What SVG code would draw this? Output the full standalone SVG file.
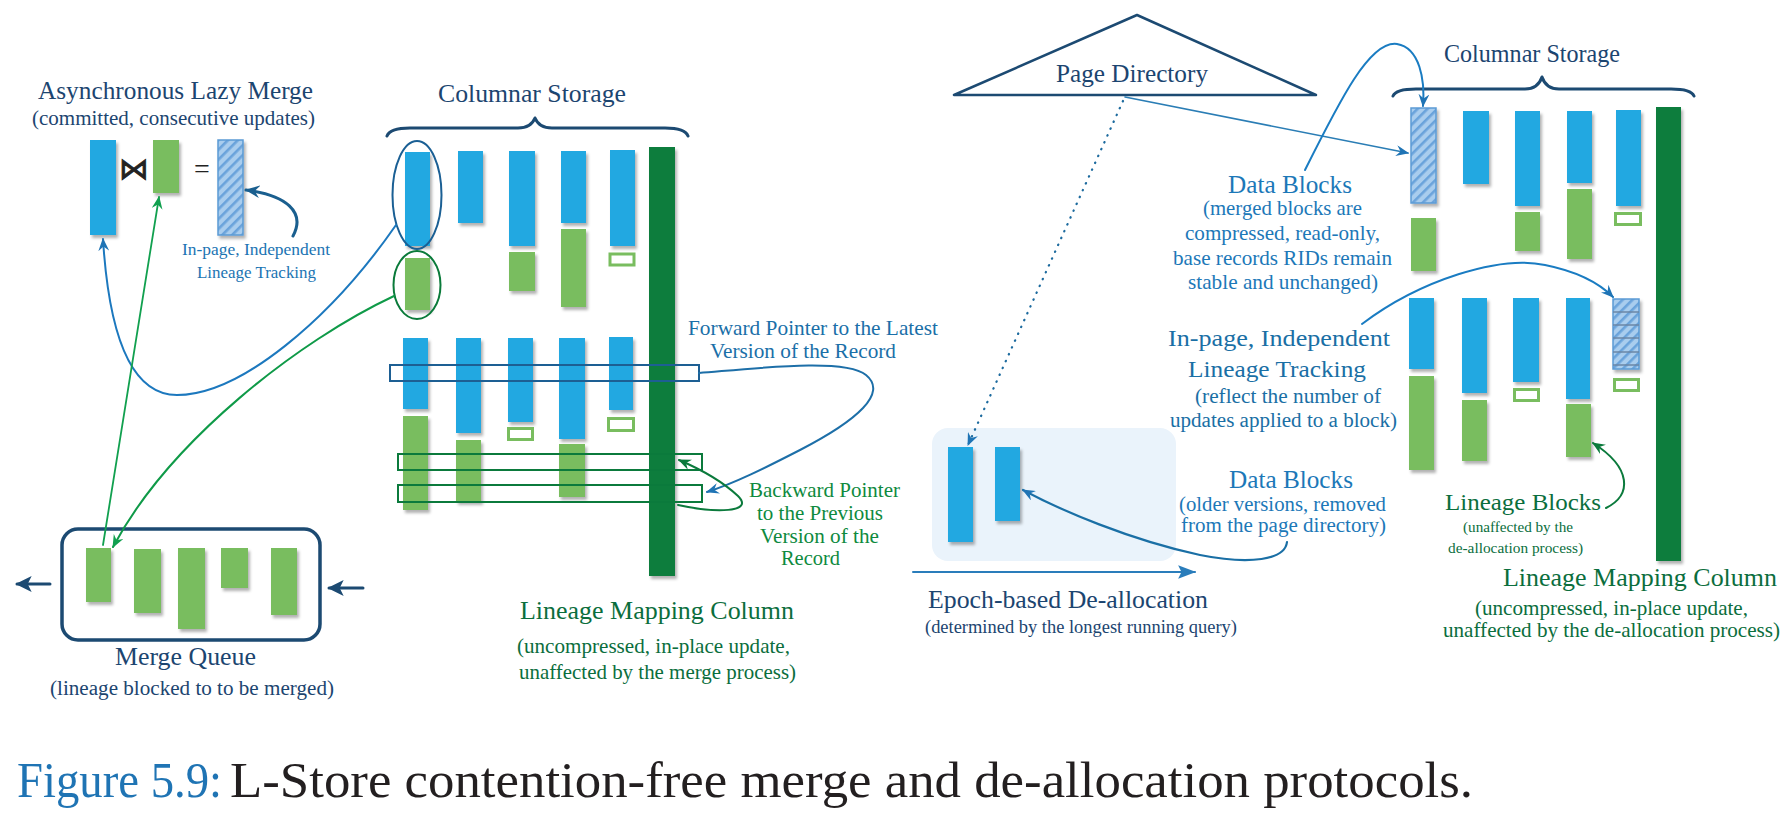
<svg xmlns="http://www.w3.org/2000/svg" width="1791" height="819" viewBox="0 0 1791 819">
<defs>
<style>
text{font-family:"Liberation Serif","DejaVu Serif",serif;}
.navy{fill:#1c4570;}
.blu{fill:#1b74b3;}
.grn{fill:#0b6e3d;}
.bgrn{fill:#0e8a3e;}
.b{fill:#21a8e1;filter:url(#sh);}
.g{fill:#79bd5f;filter:url(#sh);}
.o{fill:#fff;stroke:#79bd5f;stroke-width:3;}
.dk{fill:#077d3e;filter:url(#sh);}
.h{fill:url(#hatch);stroke:#5b9bd5;stroke-width:1.5;filter:url(#sh);}
.brace{fill:none;stroke:#1c4a72;stroke-width:3;stroke-linecap:round;stroke-linejoin:round;}
.c{fill:none;stroke-linecap:round;}
</style>
<filter id="sh" x="-30%" y="-10%" width="170%" height="130%">
<feDropShadow dx="2" dy="3" stdDeviation="1.8" flood-color="#000" flood-opacity="0.3"/>
</filter>
<pattern id="hatch" width="7" height="7" patternUnits="userSpaceOnUse" patternTransform="rotate(45)">
<rect width="7" height="7" fill="#a9cdee"/>
<rect width="2.6" height="7" fill="#6aa3db"/>
</pattern>
<marker id="aBlue" viewBox="0 0 12 10" refX="11" refY="5" markerWidth="13" markerHeight="11" markerUnits="userSpaceOnUse" orient="auto"><path d="M0,0 L12,5 L0,10 L4,5 z" fill="#1f74b5"/></marker>
<marker id="aNavy" viewBox="0 0 12 10" refX="11" refY="5" markerWidth="15" markerHeight="13" markerUnits="userSpaceOnUse" orient="auto"><path d="M0,0 L12,5 L0,10 L4,5 z" fill="#1a5f8f"/></marker>
<marker id="aGreen" viewBox="0 0 12 10" refX="11" refY="5" markerWidth="13" markerHeight="11" markerUnits="userSpaceOnUse" orient="auto"><path d="M0,0 L12,5 L0,10 L4,5 z" fill="#11a04f"/></marker>
<marker id="aDkGreen" viewBox="0 0 12 10" refX="11" refY="5" markerWidth="13" markerHeight="11" markerUnits="userSpaceOnUse" orient="auto"><path d="M0,0 L12,5 L0,10 L4,5 z" fill="#0b7a3c"/></marker>
<marker id="aTri" viewBox="0 0 16 12" refX="15" refY="6" markerWidth="18" markerHeight="14" markerUnits="userSpaceOnUse" orient="auto"><path d="M0,0 L16,6 L0,12 L3,6 z" fill="#2a7dbb"/></marker>
<marker id="aQ" viewBox="0 0 12 12" refX="11" refY="6" markerWidth="16" markerHeight="16" markerUnits="userSpaceOnUse" orient="auto"><path d="M0,0 L12,6 L0,12 L3,6 z" fill="#1c4a72"/></marker>
</defs>
<rect width="1791" height="819" fill="#fff"/>

<!-- Left: asynchronous lazy merge -->
<g id="lazy-merge">
<text class="navy" x="38" y="99" font-size="25" textLength="275" lengthAdjust="spacingAndGlyphs">Asynchronous Lazy Merge</text>
<text class="navy" x="32" y="125" font-size="21" textLength="283" lengthAdjust="spacingAndGlyphs">(committed, consecutive updates)</text>
<rect class="b" x="90" y="140" width="26" height="95"/>
<text x="134" y="179" font-size="30" text-anchor="middle" fill="#222" stroke="#222" stroke-width="0.8" style="font-family:'DejaVu Sans',sans-serif">⋈</text>
<rect class="g" x="153" y="140" width="26" height="53"/>
<text x="202" y="178" font-size="28" text-anchor="middle" fill="#222">=</text>
<rect class="h" x="218" y="140" width="25" height="95"/>
<text class="blu" x="182" y="255" font-size="16" textLength="148" lengthAdjust="spacingAndGlyphs">In-page, Independent</text>
<text class="blu" x="197" y="278" font-size="16" textLength="119" lengthAdjust="spacingAndGlyphs">Lineage Tracking</text>
</g>

<!-- Left: columnar storage -->
<g id="columnar-storage-left">
<text class="navy" x="438" y="102" font-size="26" textLength="188" lengthAdjust="spacingAndGlyphs">Columnar Storage</text>
<path class="brace" d="M387,136 Q390,128 410,128 L518,128 Q531,128 535,118 Q539,128 552,128 L665,128 Q685,128 688,136"/>
<rect class="b" x="405" y="152" width="25" height="94"/>
<rect class="g" x="405" y="258" width="25" height="52"/>
<rect class="b" x="458" y="151" width="25" height="72"/>
<rect class="b" x="509" y="151" width="26" height="95"/>
<rect class="g" x="509" y="252" width="26" height="39"/>
<rect class="b" x="561" y="151" width="25" height="72"/>
<rect class="g" x="561" y="229" width="25" height="78"/>
<rect class="b" x="610" y="150" width="25" height="96"/>
<rect class="o" x="610" y="254" width="24" height="11"/>
<rect class="b" x="403" y="338" width="25" height="71"/>
<rect class="g" x="403" y="416" width="25" height="94"/>
<rect class="b" x="456" y="338" width="25" height="95"/>
<rect class="g" x="456" y="440" width="25" height="62"/>
<rect class="b" x="508" y="338" width="25" height="84"/>
<rect class="o" x="508.5" y="428.5" width="24" height="11"/>
<rect class="b" x="559" y="338" width="26" height="101"/>
<rect class="g" x="559" y="444" width="26" height="53"/>
<rect class="b" x="609" y="337" width="24" height="73"/>
<rect class="o" x="608.5" y="418.5" width="25" height="12"/>
<rect class="dk" x="649" y="147" width="26" height="429"/>
<ellipse cx="417" cy="195" rx="24.5" ry="54" fill="none" stroke="#1a5f94" stroke-width="2"/>
<ellipse cx="417" cy="285" rx="23.5" ry="34" fill="none" stroke="#0a7a3a" stroke-width="2"/>
<rect x="390" y="365" width="309" height="16" fill="none" stroke="#1d5f93" stroke-width="2"/>
<rect x="398" y="454" width="304" height="16" fill="none" stroke="#0b7a3c" stroke-width="2"/>
<rect x="398" y="485" width="304" height="17" fill="none" stroke="#0b7a3c" stroke-width="2"/>
</g>

<g id="pointer-labels">
<text x="688" y="335" font-size="21" fill="#1a6fa8" textLength="250" lengthAdjust="spacingAndGlyphs">Forward Pointer to the Latest</text>
<text x="710" y="358" font-size="21" fill="#1a6fa8" textLength="186" lengthAdjust="spacingAndGlyphs">Version of the Record</text>
<text class="bgrn" x="749" y="497" font-size="21" textLength="151" lengthAdjust="spacingAndGlyphs">Backward Pointer</text>
<text class="bgrn" x="757" y="520" font-size="21" textLength="126" lengthAdjust="spacingAndGlyphs">to the Previous</text>
<text class="bgrn" x="760" y="543" font-size="21" textLength="119" lengthAdjust="spacingAndGlyphs">Version of the</text>
<text class="bgrn" x="781" y="565" font-size="21" textLength="59" lengthAdjust="spacingAndGlyphs">Record</text>
</g>

<g id="lineage-mapping-left">
<text class="grn" x="520" y="619" font-size="26" textLength="274" lengthAdjust="spacingAndGlyphs">Lineage Mapping Column</text>
<text class="grn" x="517" y="653" font-size="21" textLength="273" lengthAdjust="spacingAndGlyphs">(uncompressed, in-place update,</text>
<text class="grn" x="519" y="679" font-size="21" textLength="277" lengthAdjust="spacingAndGlyphs">unaffected by the merge process)</text>
</g>

<!-- Merge queue -->
<g id="merge-queue">
<rect x="62" y="529" width="258" height="111" rx="16" fill="none" stroke="#1c4a72" stroke-width="3.5"/>
<rect class="g" x="86" y="548" width="25" height="54"/>
<rect class="g" x="134" y="549" width="27" height="64"/>
<rect class="g" x="178" y="548" width="27" height="81"/>
<rect class="g" x="221" y="548" width="27" height="40"/>
<rect class="g" x="271" y="548" width="26" height="67"/>
<text class="navy" x="115" y="665" font-size="25" textLength="141" lengthAdjust="spacingAndGlyphs">Merge Queue</text>
<text class="navy" x="50" y="695" font-size="20" textLength="284" lengthAdjust="spacingAndGlyphs">(lineage blocked to to be merged)</text>
</g>

<!-- Page directory -->
<g id="page-directory">
<path d="M1137,15 L954,95 L1316,95 Z" fill="#fff" stroke="#1c4a72" stroke-width="2.5" stroke-linejoin="round"/>
<text class="navy" x="1056" y="82" font-size="25" textLength="152" lengthAdjust="spacingAndGlyphs">Page Directory</text>
</g>

<g id="data-blocks-merged-label">
<text x="1228" y="193" font-size="25" fill="#1c78b8" textLength="124" lengthAdjust="spacingAndGlyphs">Data Blocks</text>
<text x="1203" y="215" font-size="21" fill="#1c78b8" textLength="159" lengthAdjust="spacingAndGlyphs">(merged blocks are</text>
<text x="1185" y="240" font-size="21" fill="#1c78b8" textLength="195" lengthAdjust="spacingAndGlyphs">compressed, read-only,</text>
<text x="1173" y="265" font-size="21" fill="#1c78b8" textLength="219" lengthAdjust="spacingAndGlyphs">base records RIDs remain</text>
<text x="1188" y="289" font-size="21" fill="#1c78b8" textLength="190" lengthAdjust="spacingAndGlyphs">stable and unchanged)</text>
</g>

<!-- Right columnar storage -->
<g id="columnar-storage-right">
<text class="navy" x="1444" y="62" font-size="26" textLength="176" lengthAdjust="spacingAndGlyphs">Columnar Storage</text>
<path class="brace" d="M1393,96 Q1396,89 1416,89 L1525,89 Q1538,89 1542,77 Q1546,89 1559,89 L1671,89 Q1691,89 1694,96"/>
<rect class="h" x="1411" y="108" width="25" height="95"/>
<rect class="g" x="1411" y="218" width="25" height="53"/>
<rect class="b" x="1463" y="111" width="26" height="73"/>
<rect class="b" x="1515" y="111" width="25" height="95"/>
<rect class="g" x="1515" y="212" width="25" height="39"/>
<rect class="b" x="1567" y="111" width="25" height="72"/>
<rect class="g" x="1567" y="189" width="25" height="70"/>
<rect class="b" x="1616" y="110" width="25" height="96"/>
<rect class="o" x="1615.5" y="213.5" width="25" height="11"/>
<rect class="b" x="1409" y="298" width="25" height="71"/>
<rect class="g" x="1409" y="376" width="25" height="94"/>
<rect class="b" x="1462" y="298" width="25" height="95"/>
<rect class="g" x="1462" y="400" width="25" height="61"/>
<rect class="b" x="1513" y="298" width="26" height="84"/>
<rect class="o" x="1514.5" y="389.5" width="24" height="11"/>
<rect class="b" x="1566" y="298" width="24" height="101"/>
<rect class="g" x="1566" y="404" width="25" height="53"/>
<rect class="h" x="1613" y="299" width="26" height="70"/>
<path d="M1613,312 H1639 M1613,325 H1639 M1613,338 H1639 M1613,352 H1639 M1613,365 H1639" stroke="#6b86a6" stroke-width="1.5"/>
<rect class="o" x="1614.5" y="379.5" width="24" height="11"/>
<rect class="dk" x="1656" y="107" width="25" height="454"/>
</g>

<g id="lineage-tracking-right-label">
<text x="1168" y="346" font-size="24" fill="#1a6fa5" textLength="222" lengthAdjust="spacingAndGlyphs">In-page, Independent</text>
<text x="1188" y="377" font-size="24" fill="#1a6fa5" textLength="178" lengthAdjust="spacingAndGlyphs">Lineage Tracking</text>
<text x="1195" y="403" font-size="20" fill="#1a6fa5" textLength="186" lengthAdjust="spacingAndGlyphs">(reflect the number of</text>
<text x="1170" y="427" font-size="20" fill="#1a6fa5" textLength="227" lengthAdjust="spacingAndGlyphs">updates applied to a block)</text>
</g>

<!-- De-allocation -->
<g id="deallocated-blocks">
<rect x="932" y="428" width="244" height="133" rx="16" fill="#eaf3fb"/>
<rect class="b" x="948" y="447" width="25" height="95"/>
<rect class="b" x="995" y="447" width="25" height="74"/>
</g>

<g id="data-blocks-older-label">
<text x="1229" y="488" font-size="25" fill="#1c78b8" textLength="124" lengthAdjust="spacingAndGlyphs">Data Blocks</text>
<text x="1179" y="511" font-size="20" fill="#1c78b8" textLength="207" lengthAdjust="spacingAndGlyphs">(older versions, removed</text>
<text x="1181" y="532" font-size="20" fill="#1c78b8" textLength="205" lengthAdjust="spacingAndGlyphs">from the page directory)</text>
</g>

<g id="epoch-label">
<text class="navy" x="928" y="608" font-size="25" textLength="280" lengthAdjust="spacingAndGlyphs">Epoch-based De-allocation</text>
<text class="navy" x="925" y="633" font-size="19" textLength="312" lengthAdjust="spacingAndGlyphs">(determined by the longest running query)</text>
</g>

<g id="lineage-blocks-label">
<text class="grn" x="1445" y="510" font-size="24" textLength="156" lengthAdjust="spacingAndGlyphs">Lineage Blocks</text>
<text class="grn" x="1463" y="532" font-size="15" textLength="110" lengthAdjust="spacingAndGlyphs">(unaffected by the</text>
<text class="grn" x="1448" y="553" font-size="15" textLength="135" lengthAdjust="spacingAndGlyphs">de-allocation process)</text>
</g>

<g id="lineage-mapping-right">
<text class="grn" x="1503" y="586" font-size="26" textLength="274" lengthAdjust="spacingAndGlyphs">Lineage Mapping Column</text>
<text class="grn" x="1475" y="615" font-size="21" textLength="273" lengthAdjust="spacingAndGlyphs">(uncompressed, in-place update,</text>
<text class="grn" x="1443" y="637" font-size="21" textLength="337" lengthAdjust="spacingAndGlyphs">unaffected by the de-allocation process)</text>
</g>

<!-- Connectors -->
<g id="connectors">
<path class="c" d="M293,236 C306,212 286,195 246,190" stroke="#1a5f8f" stroke-width="3" marker-end="url(#aNavy)"/>
<path class="c" d="M396,225 C330,320 240,395 177,395 C125,395 108,320 103,239" stroke="#1c78be" stroke-width="2" marker-end="url(#aBlue)"/>
<path class="c" d="M103,545 L159,197" stroke="#11a04f" stroke-width="1.8" marker-end="url(#aGreen)"/>
<path class="c" d="M394,296 C300,340 170,440 113,547" stroke="#0f9a48" stroke-width="2" marker-end="url(#aGreen)"/>
<path class="c" d="M699,373 C760,368 845,358 866,375 C888,393 858,420 800,450 C765,468 735,483 707,492" stroke="#1d6fa8" stroke-width="2" marker-end="url(#aBlue)"/>
<path class="c" d="M678,505 C715,513 755,513 738,496 C722,481 700,469 679,460" stroke="#0b7a3c" stroke-width="2" marker-end="url(#aDkGreen)"/>
<path class="c" d="M50,584 L17,584" stroke="#1c4a72" stroke-width="3" marker-end="url(#aQ)"/>
<path class="c" d="M363,588 L329,588" stroke="#1c4a72" stroke-width="3" marker-end="url(#aQ)"/>
<path class="c" d="M1125,97 L1408,153" stroke="#2a7db5" stroke-width="1.6" marker-end="url(#aBlue)"/>
<path class="c" d="M1123,101 L968,445" stroke="#1c6a9e" stroke-width="2.2" stroke-dasharray="0.5 7" marker-end="url(#aBlue)"/>
<path class="c" d="M1305,170 C1340,100 1370,40 1397,44 C1420,48 1425,80 1423,106" stroke="#1a7cc2" stroke-width="2" marker-end="url(#aBlue)"/>
<path class="c" d="M1362,324 C1420,280 1500,255 1545,265 C1580,272 1600,284 1613,297" stroke="#1a7cc2" stroke-width="2" marker-end="url(#aBlue)"/>
<path class="c" d="M1287,542 C1285,560 1250,565 1200,555 C1130,540 1060,510 1023,490" stroke="#1a6fa5" stroke-width="2.2" marker-end="url(#aBlue)"/>
<path class="c" d="M913,572 L1195,572" stroke="#2a7dbb" stroke-width="2" marker-end="url(#aTri)"/>
<path class="c" d="M1606,508 C1632,495 1632,468 1593,443" stroke="#0b7a3c" stroke-width="2" marker-end="url(#aDkGreen)"/>
</g>

<!-- Caption -->
<g id="caption">
<text x="17" y="797" font-size="50" fill="#1f74b4" textLength="205" lengthAdjust="spacingAndGlyphs">Figure 5.9:</text>
<text x="230" y="797" font-size="50" fill="#231f20" textLength="1243" lengthAdjust="spacingAndGlyphs">L-Store contention-free merge and de-allocation protocols.</text>
</g>
</svg>
